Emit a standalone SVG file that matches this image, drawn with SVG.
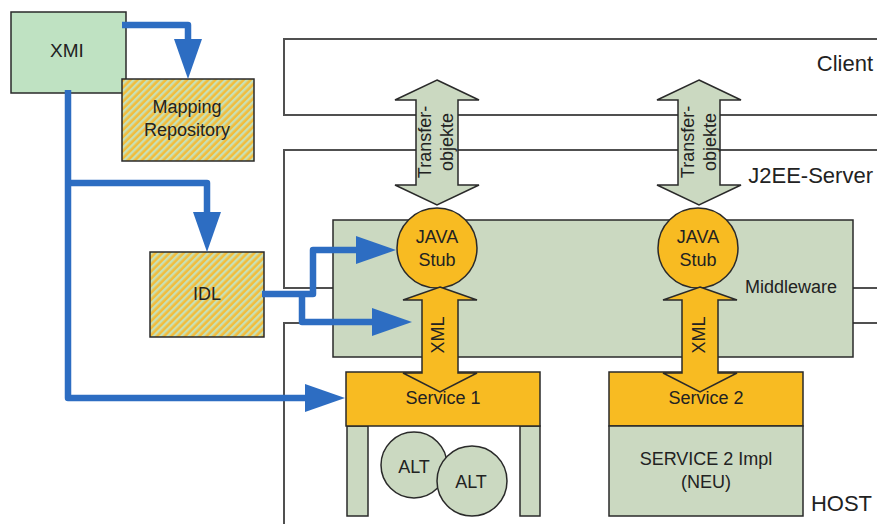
<svg xmlns="http://www.w3.org/2000/svg" width="877" height="524" viewBox="0 0 877 524">
<defs>
<pattern id="hatch" width="5" height="5" patternUnits="userSpaceOnUse" patternTransform="rotate(45)">
<rect width="5" height="5" fill="#f2bd3c"/>
<rect width="2.4" height="5" fill="#c8e0b6"/>
</pattern>
<marker id="ah" markerUnits="userSpaceOnUse" markerWidth="40" markerHeight="28" refX="0" refY="14" orient="auto" viewBox="0 0 40 28">
<path d="M0,0 L40,14 L0,28 z" fill="#2d6dc2"/>
</marker>
<style>
.frame{fill:none;stroke:#505050;stroke-width:2}
.box{stroke:#2a2a2a;stroke-width:1.5}
.green{fill:#cbd9c1}
.orange{fill:#f8bb22}
.xmi{fill:#bfe2c2}
.t{font-family:"Liberation Sans",Arial,sans-serif;font-size:18px;fill:#222;text-anchor:middle}
.big{font-family:"Liberation Sans",Arial,sans-serif;font-size:22px;fill:#222;text-anchor:end}
.blue{fill:none;stroke:#2d6dc2;stroke-width:6.5;stroke-linejoin:round;marker-end:url(#ah)}
</style>
</defs>

<g id="frames">
<path class="frame" d="M877,39 H284 V115 H877"/>
<path class="frame" d="M877,150 H284 V288 H877"/>
<path class="frame" d="M877,323 H284 V524"/>
<text class="big" x="873" y="71">Client</text>
<text class="big" x="873" y="183">J2EE-Server</text>
<text class="big" x="872" y="511">HOST</text>
</g>

<g id="middleware">
<rect class="box green" x="333" y="220" width="520" height="137"/>
<text class="t" x="791" y="293">Middleware</text>
</g>

<g id="transfer1">
<path class="box green" d="M437,80 L479,100 L458,100 L458,185 L479,185 L437,205 L395,185 L416,185 L416,100 L395,100 z"/>
<text class="t" transform="translate(431,142) rotate(-90)">Transfer-</text>
<text class="t" transform="translate(453,142) rotate(-90)">objekte</text>
</g>
<g id="transfer2">
<path class="box green" d="M699,80 L741,100 L720,100 L720,185 L741,185 L699,205 L657,185 L678,185 L678,100 L657,100 z"/>
<text class="t" transform="translate(694,142) rotate(-90)">Transfer-</text>
<text class="t" transform="translate(716,142) rotate(-90)">objekte</text>
</g>

<g id="stub1">
<circle class="box orange" cx="437" cy="248" r="40"/>
<text class="t" x="437" y="243">JAVA</text>
<text class="t" x="437" y="266">Stub</text>
</g>
<g id="stub2">
<circle class="box orange" cx="698" cy="248" r="40"/>
<text class="t" x="698" y="243">JAVA</text>
<text class="t" x="698" y="266">Stub</text>
</g>

<g id="service1">
<rect class="box green" x="347" y="426" width="21" height="90"/>
<rect class="box green" x="520" y="426" width="20" height="90"/>
<rect class="box orange" x="346" y="372" width="194" height="54"/>
<text class="t" x="443" y="404">Service 1</text>
</g>
<g id="alt1">
<circle class="box green" cx="414" cy="465" r="33"/>
<text class="t" x="414" y="473">ALT</text>
</g>
<g id="alt2">
<circle class="box green" cx="472" cy="481" r="35"/>
<text class="t" x="471" y="488">ALT</text>
</g>

<g id="service2">
<rect class="box orange" x="609" y="372" width="194" height="54"/>
<text class="t" x="706" y="404">Service 2</text>
<rect class="box green" x="609" y="426" width="194" height="90"/>
<text class="t" x="706" y="465">SERVICE 2 Impl</text>
<text class="t" x="706" y="488">(NEU)</text>
</g>

<g id="xml1">
<path class="box orange" d="M440,287 L477,300 L458,300 L458,373 L477,373 L440,392 L403,373 L422,373 L422,300 L403,300 z"/>
<text class="t" transform="translate(444,335) rotate(-90)">XML</text>
</g>
<g id="xml2">
<path class="box orange" d="M700,287 L737,300 L718,300 L718,373 L737,373 L700,392 L663,373 L682,373 L682,300 L663,300 z"/>
<text class="t" transform="translate(705,335) rotate(-90)">XML</text>
</g>

<g id="xmi">
<rect class="box xmi" x="11" y="12" width="115" height="81"/>
<text class="t" x="67" y="57" style="font-size:19px">XMI</text>
</g>
<g id="mapping">
<rect class="box" fill="url(#hatch)" x="122" y="79" width="132" height="82"/>
<text class="t" x="187" y="113">Mapping</text>
<text class="t" x="187" y="136">Repository</text>
</g>
<g id="idl">
<rect class="box" fill="url(#hatch)" x="150" y="252" width="114" height="85"/>
<text class="t" x="207" y="300">IDL</text>
</g>

<g id="connectors">
<path class="blue" d="M122,25 H188 V39"/>
<path class="blue" d="M68,183 H207 V212"/>
<path class="blue" d="M68,90 V398 H305"/>
<path class="blue" d="M262,294 H313 V250 H356"/>
<path class="blue" d="M302,294 V322 H372"/>
</g>
</svg>
